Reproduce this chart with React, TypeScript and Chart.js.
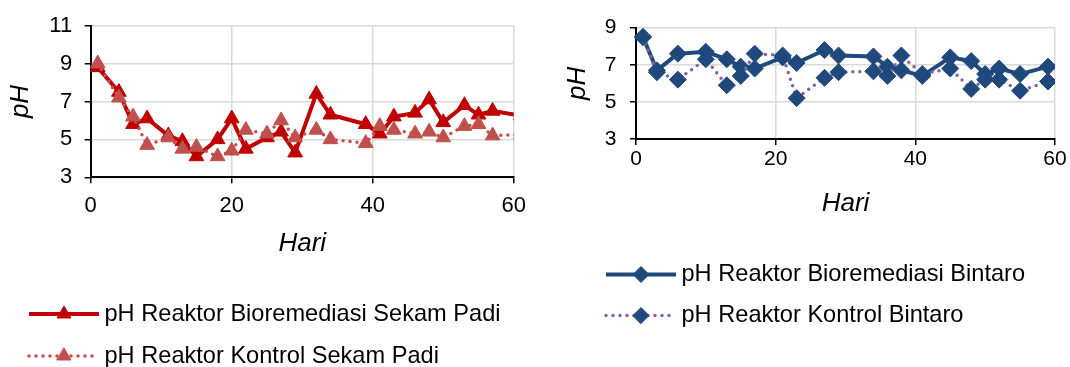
import React, { useEffect, useRef } from 'react';
import { Chart, registerables } from 'chart.js';

Chart.register(...registerables);

// ---------- data ----------
const sekamDays = [1, 4, 6, 8, 11, 13, 15, 18, 20, 22, 25, 27, 29, 32, 34, 39, 41, 43, 46, 48, 50, 53, 55, 57, 61];
const sekamBio = [8.8, 7.5, 5.8, 6.1, 5.2, 4.9, 4.1, 5.0, 6.1, 4.5, 5.1, 5.4, 4.3, 7.4, 6.3, 5.8, 5.3, 6.2, 6.4, 7.1, 5.9, 6.8, 6.3, 6.5, 6.25];
const sekamKontrol = [9.0, 7.2, 6.2, 4.7, 5.1, 4.5, 4.6, 4.1, 4.4, 5.5, 5.3, 6.0, 5.1, 5.5, 5.0, 4.8, 5.7, 5.5, 5.3, 5.4, 5.1, 5.7, 5.8, 5.2, 5.25];

const bintaroDays = [1, 3, 6, 10, 13, 15, 17, 21, 23, 27, 29, 34, 36, 38, 41, 45, 48, 50, 52, 55, 59];
const bintaroBio = [8.5, 6.7, 7.6, 7.7, 7.3, 6.9, 6.8, 7.4, 7.1, 7.8, 7.5, 7.45, 6.9, 6.7, 6.4, 7.4, 7.2, 6.5, 6.8, 6.5, 6.9];
const bintaroKontrol = [8.5, 6.6, 6.2, 7.3, 5.9, 6.4, 7.6, 7.5, 5.2, 6.3, 6.6, 6.65, 6.4, 7.5, 6.5, 6.8, 5.7, 6.2, 6.2, 5.6, 6.1];

const xTicks = [0, 20, 40, 60];
const sekamYTicks = [3, 5, 7, 9, 11];
const bintaroYTicks = [3, 5, 7, 9];

const labelsSekam = ['pH Reaktor Bioremediasi Sekam Padi', 'pH Reaktor Kontrol Sekam Padi'];
const labelsBintaro = ['pH Reaktor Bioremediasi Bintaro', 'pH Reaktor Kontrol Bintaro'];

const FONT = '"Liberation Sans", Arial, Helvetica, sans-serif';

function drawMarker(ctx: CanvasRenderingContext2D, style: string, x: number, y: number, r: number, fill: string) {
  ctx.beginPath();
  if (style === 'triangle') {
    ctx.moveTo(x, y - r);
    ctx.lineTo(x + 0.866 * r, y + 0.5 * r);
    ctx.lineTo(x - 0.866 * r, y + 0.5 * r);
  } else {
    ctx.moveTo(x - r, y);
    ctx.lineTo(x, y - r);
    ctx.lineTo(x + r, y);
    ctx.lineTo(x, y + r);
  }
  ctx.closePath();
  ctx.fillStyle = fill;
  ctx.strokeStyle = fill;
  ctx.lineWidth = 1;
  ctx.fill();
  ctx.stroke();
}

const excelLegend = {
  id: 'excelLegend',
  afterDraw(chart: any, _args: any, o: any) {
    const ctx: CanvasRenderingContext2D = chart.ctx;
    chart.data.datasets.forEach((ds: any, i: number) => {
      const y = o.rows[i];
      ctx.save();
      ctx.strokeStyle = ds.borderColor;
      ctx.lineWidth = ds.borderWidth;
      ctx.setLineDash(ds.borderDash || []);
      ctx.lineCap = ds.borderCapStyle;
      ctx.beginPath();
      ctx.moveTo(o.x1, y);
      ctx.lineTo(o.x2, y);
      ctx.stroke();
      ctx.setLineDash([]);
      drawMarker(ctx, ds.pointStyle, o.markerX, y, o.markerR, ds.pointBackgroundColor);
      ctx.fillStyle = '#000';
      ctx.font = `${o.fontSize}px ${FONT}`;
      ctx.textBaseline = 'middle';
      ctx.textAlign = 'left';
      ctx.fillText(ds.label, o.textX, y);
      ctx.restore();
    });
  },
};

type Series = { label: string; values: number[]; line: string; point: string; dotted: boolean; marker: string };

function buildChart(canvas: HTMLCanvasElement, c: any) {
  return new Chart(canvas, {
    type: 'line',
    data: {
      datasets: c.series.map((s: Series, i: number) => ({
        label: s.label,
        data: c.days.map((d: number, j: number) => ({ x: d, y: s.values[j] })),
        borderColor: s.line,
        backgroundColor: s.point,
        borderWidth: s.dotted ? 3.5 : 4,
        borderDash: s.dotted ? [0, 7] : [],
        borderCapStyle: s.dotted ? 'round' : 'butt',
        borderJoinStyle: 'round',
        pointStyle: s.marker,
        pointRadius: c.pointRadius,
        pointBackgroundColor: s.point,
        pointBorderColor: s.point,
        pointBorderWidth: 1,
        tension: 0,
        order: c.series.length - i,
        clip: { left: 12, top: 12, bottom: 12, right: 0 },
      })),
    },
    options: {
      responsive: false,
      animation: false,
      events: [],
      layout: { padding: { left: 0, top: c.top, right: c.right, bottom: 0 } },
      plugins: {
        legend: { display: false },
        tooltip: { enabled: false },
        excelLegend: c.legend,
      } as any,
      scales: {
        x: {
          type: 'linear',
          min: 0,
          max: 60,
          afterFit: (s: any) => { s.height = c.xHeight; },
          afterBuildTicks: (s: any) => { s.ticks = xTicks.map((v) => ({ value: v })); },
          grid: { color: '#D9D9D9', lineWidth: 1.5, tickColor: '#000', tickWidth: 1.5, tickLength: 6, drawTicks: true },
          border: { color: '#000', width: 2 },
          ticks: { font: { family: FONT, size: c.tickSize }, color: '#000', padding: c.xTickPad, maxRotation: 0, autoSkip: false },
          title: { display: true, text: 'Hari', color: '#000', font: { family: FONT, size: 26, style: 'italic' }, padding: { top: 0, bottom: c.hariPad } },
        },
        y: {
          type: 'linear',
          min: c.yMin,
          max: c.yMax,
          afterFit: (s: any) => { s.width = c.yWidth; },
          afterBuildTicks: (s: any) => { s.ticks = c.yTicks.map((v: number) => ({ value: v })); },
          grid: { color: '#D9D9D9', lineWidth: 1.5, tickColor: '#000', tickWidth: 1.5, tickLength: 6, drawTicks: true },
          border: { color: '#000', width: 2 },
          ticks: { font: { family: FONT, size: c.tickSize }, color: '#000', padding: c.yTickPad, autoSkip: false },
          title: { display: true, text: 'pH', color: '#000', font: { family: FONT, size: 26, style: 'italic' }, padding: { top: c.phPad, bottom: 0 } },
        },
      } as any,
    },
    plugins: [excelLegend as any],
  } as any);
}

export default function App() {
  const leftRef = useRef<HTMLCanvasElement>(null);
  const rightRef = useRef<HTMLCanvasElement>(null);

  useEffect(() => {
    const left = buildChart(leftRef.current!, {
      days: sekamDays,
      series: [
        { label: labelsSekam[0], values: sekamBio, line: '#C00000', point: '#C00000', dotted: false, marker: 'triangle' },
        { label: labelsSekam[1], values: sekamKontrol, line: '#C0504D', point: '#C0504D', dotted: true, marker: 'triangle' },
      ],
      pointRadius: 8.5,
      yMin: 3, yMax: 11, yTicks: sekamYTicks,
      top: 17.3, right: 20.7, yWidth: 90.7, xHeight: 189.7,
      tickSize: 22, yTickPad: 12.5, xTickPad: 9, phPad: 5, hariPad: 107.4,
      legend: { x1: 29, x2: 99, markerX: 64, markerR: 8, textX: 104.5, rows: [314, 356], fontSize: 23.6 },
    });
    const right = buildChart(rightRef.current!, {
      days: bintaroDays,
      series: [
        { label: labelsBintaro[0], values: bintaroBio, line: '#1F497D', point: '#1F497D', dotted: false, marker: 'rectRot' },
        { label: labelsBintaro[1], values: bintaroKontrol, line: '#8064A2', point: '#1F497D', dotted: true, marker: 'rectRot' },
      ],
      pointRadius: 8.5,
      yMin: 3, yMax: 9, yTicks: bintaroYTicks,
      top: 27.7, right: 15, yWidth: 101, xHeight: 228,
      tickSize: 21, yTickPad: 13.5, xTickPad: 1.5, phPad: 27, hariPad: 147.4,
      legend: { x1: 71, x2: 141, markerX: 106, markerR: 8, textX: 146.5, rows: [274.5, 315.5], fontSize: 23.6 },
    });
    return () => {
      left.destroy();
      right.destroy();
    };
  }, []);

  return (
    <div style={{ position: 'absolute', left: 0, top: 0, width: 1070, height: 367, background: '#fff', overflow: 'hidden' }}>
      <canvas ref={leftRef} width={535} height={367} style={{ position: 'absolute', left: 0, top: 0, width: 535, height: 367 }} />
      <canvas ref={rightRef} width={535} height={367} style={{ position: 'absolute', left: 535, top: 0, width: 535, height: 367 }} />
    </div>
  );
}
